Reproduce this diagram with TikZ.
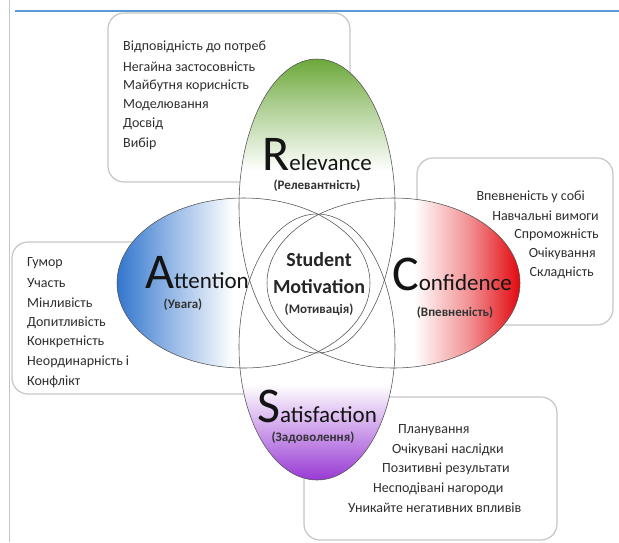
\documentclass[tikz,border=0pt]{standalone}
\usepackage{fontspec}
\setmainfont{Carlito}
\usepackage{tikz}
\definecolor{attBlue}{RGB}{50,118,206}
\definecolor{relGreen}{RGB}{108,168,58}
\definecolor{conRed}{RGB}{226,8,14}
\definecolor{satPurple}{RGB}{152,58,212}
\definecolor{lineGray}{RGB}{80,80,80}
\definecolor{boxGray}{RGB}{198,198,198}
\definecolor{ruleBlue}{RGB}{91,155,213}
\pgfdeclarehorizontalshading{attShade}{100bp}{color(0bp)=(attBlue); color(25bp)=(attBlue); color(35bp)=(attBlue!55!white); color(48bp)=(white); color(100bp)=(white)}
\pgfdeclarehorizontalshading{conShade}{100bp}{color(0bp)=(white); color(54bp)=(white); color(65bp)=(conRed!45!white); color(75bp)=(conRed); color(100bp)=(conRed)}
\pgfdeclareverticalshading{relShade}{100bp}{color(0bp)=(white); color(56bp)=(white); color(67bp)=(relGreen!55!white); color(75bp)=(relGreen); color(100bp)=(relGreen)}
\pgfdeclareverticalshading{satShade}{100bp}{color(0bp)=(satPurple); color(25bp)=(satPurple); color(34bp)=(satPurple!50!white); color(43bp)=(white); color(100bp)=(white)}
\tikzstyle{infoBox}=[shape = rectangle, draw = boxGray, line width = 1.2pt, fill = white, rounded corners = 16pt, inner sep = 0pt]
\tikzstyle{ellLine}=[draw = lineGray, line width = 0.55pt]
\tikzstyle{listText}=[anchor = west, inner sep = 0pt, text = black!82, font = \fontsize{14}{14}\selectfont]
\newcommand{\capWord}[2]{{\fontsize{50}{50}\selectfont #1}{\fontsize{23}{23}\selectfont #2}}

\begin{document}
\begin{tikzpicture}[x = 1pt, y = -1pt]
\tikzstyle{bigWord}=[anchor = base, inner sep = 0pt, text = black!92]
\tikzstyle{subWord}=[inner sep = 0pt, text = black!80, font = \bfseries\fontsize{13}{13}\selectfont]
\tikzstyle{midWord}=[inner sep = 0pt, text = black!85, font = \bfseries\fontsize{20}{20}\selectfont]
\useasboundingbox (0,0) rectangle (619,542);
\draw[gray!45, line width = 1pt] (9,0) -- (9,542);
\draw[ruleBlue, line width = 1.4pt] (15,11) -- (619,11);
\node[infoBox, minimum width = 242, minimum height = 169] (relBox) at (229,97.5) {};
\node[infoBox, minimum width = 196, minimum height = 167] (conBox) at (515,241.5) {};
\node[infoBox, minimum width = 278, minimum height = 152] (attBox) at (151,318) {};
\node[infoBox, minimum width = 253, minimum height = 143] (satBox) at (430.5,468.5) {};
\shade[shading = attShade] (243.5,283) ellipse (126.5 and 85);
\shade[shading = conShade] (393.5,283) ellipse (126.5 and 85);
\shade[shading = relShade] (317,206) ellipse (78 and 147);
\shade[shading = satShade] (317,347) ellipse (78 and 133);
\path[ellLine] (243.5,283) ellipse (126.5 and 85);
\path[ellLine] (393.5,283) ellipse (126.5 and 85);
\path[ellLine] (317,206) ellipse (78 and 147);
\path[ellLine] (317,347) ellipse (78 and 133);
\foreach \txt [count = \i from 0] in {Відповідність до потреб, Негайна застосовність, Майбутня корисність, Моделювання, Досвід, Вибір}
  \node[listText] (rel\i) at (123,{47+19.3*\i}) {\txt};
\foreach \txt [count = \i from 0] in {Гумор, Участь, Мінливість, Допитливість, Конкретність, Неординарність і, Конфлікт}
  \node[listText] (att\i) at (27,{263+19.8*\i}) {\txt};
\foreach \x/\txt [count = \i from 0] in {585/Впевненість у собі, 599/Навчальні вимоги, 599/Спроможність, 596/Очікування, 594/Складність}
  \node[listText, anchor = east] (con\i) at (\x,{197+19*\i}) {\txt};
\foreach \x/\txt [count = \i from 0] in {398/Планування, 392/Очікувані наслідки, 382/Позитивні результати, 373/Несподівані нагороди, 348/Уникайте негативних впливів}
  \node[listText] (sat\i) at (\x,{430+19.5*\i}) {\txt};
\node[bigWord] (relWord) at (317,170) {\capWord{R}{elevance}};
\node[subWord] (relSub) at (317,186) {(Релевантність)};
\node[bigWord] (attWord) at (197,288) {\capWord{A}{ttention}};
\node[subWord] (attSub) at (183,305) {(Увага)};
\node[bigWord] (conWord) at (452,290) {\capWord{C}{onfidence}};
\node[subWord] (conSub) at (455,313) {(Впевненість)};
\node[bigWord] (satWord) at (317,422) {\capWord{S}{atisfaction}};
\node[subWord] (satSub) at (313,438) {(Задоволення)};
\node[midWord] (midTop) at (319,260) {Student};
\node[midWord] (midMain) at (319,287) {Motivation};
\node[subWord] (midSub) at (319,310) {(Мотивація)};
\end{tikzpicture}
\end{document}
